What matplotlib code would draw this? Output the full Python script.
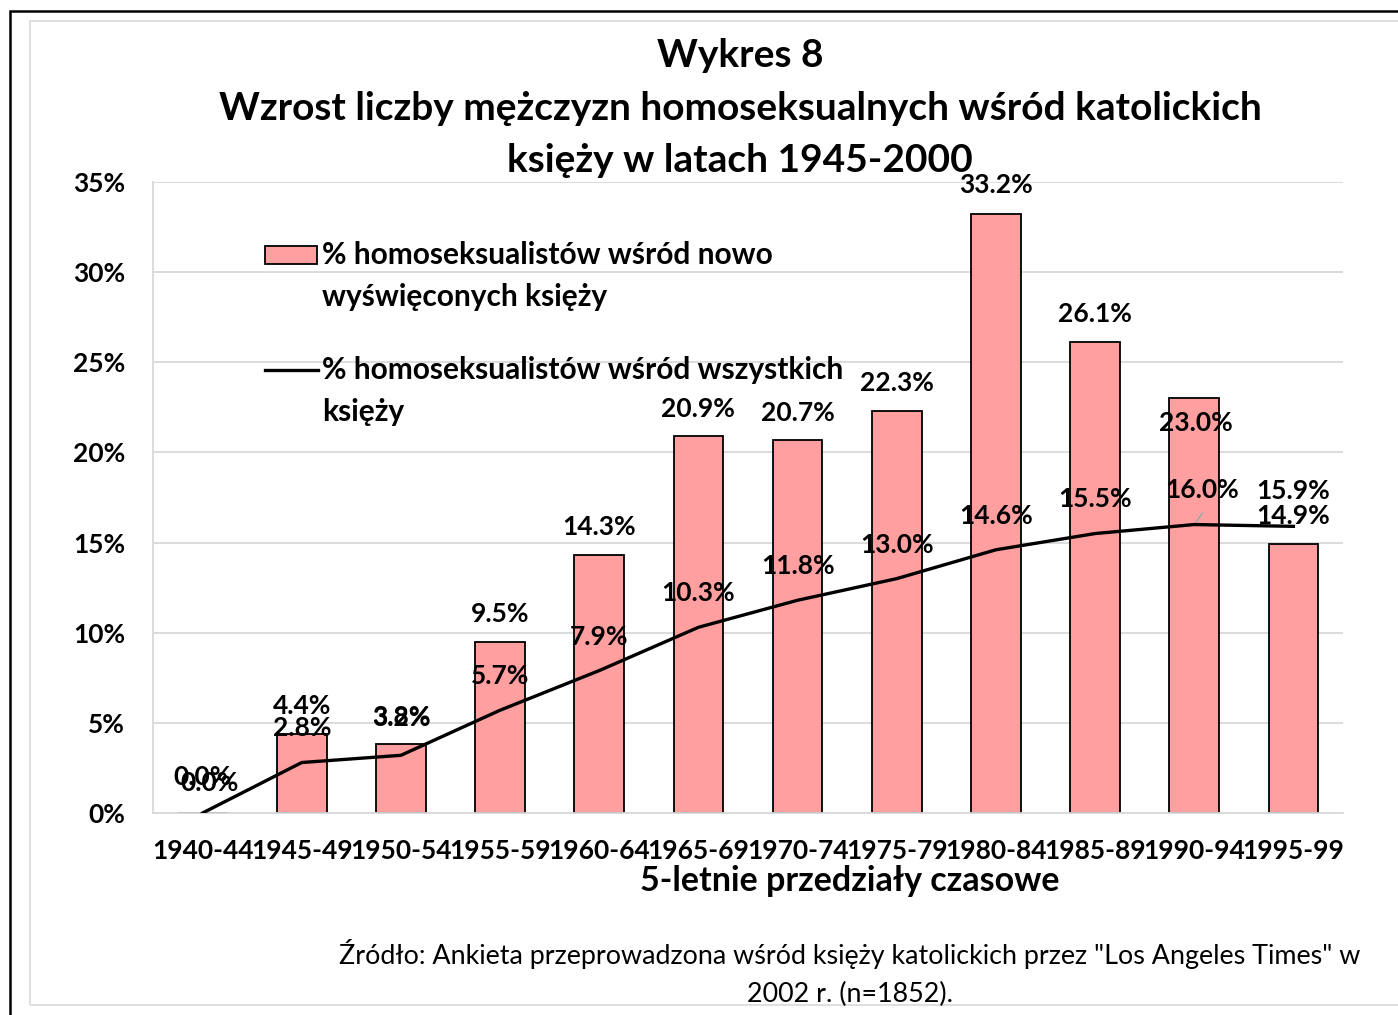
import matplotlib
matplotlib.use('Agg')
import matplotlib.pyplot as plt
from matplotlib.patches import Rectangle
from matplotlib.lines import Line2D
import numpy as np

plt.rcParams['font.family'] = ['Lato', 'DejaVu Sans']

W, H = 1398, 1015

# data
periods = ['1940-44', '1945-49', '1950-54', '1955-59', '1960-64', '1965-69',
           '1970-74', '1975-79', '1980-84', '1985-89', '1990-94', '1995-99']
new_priests = [0.0, 4.4, 3.8, 9.5, 14.3, 20.9, 20.7, 22.3, 33.2, 26.1, 23.0, 14.9]
all_priests = [0.0, 2.8, 3.2, 5.7, 7.9, 10.3, 11.8, 13.0, 14.6, 15.5, 16.0, 15.9]
yticks = [0, 5, 10, 15, 20, 25, 30, 35]

bar_label = '% homoseksualistów wśród nowo\nwyświęconych księży'
line_label = '% homoseksualistów wśród wszystkich\nksięży'
title = 'Wykres 8\nWzrost liczby mężczyzn homoseksualnych wśród katolickich\nksięży w latach 1945-2000'
xlabel = '5-letnie przedziały czasowe'
source = 'Źródło: Ankieta przeprowadzona wśród księży katolickich przez "Los Angeles Times" w\n2002 r. (n=1852).'


def fx(px):
    return px / W


def fy(py):
    return 1 - py / H


fig = plt.figure(figsize=(W / 100, H / 100), dpi=100)

# outer frames
fig.patches.append(Rectangle((fx(10), fy(1030)), fx(1420) - fx(10), fy(11) - fy(1030),
                             transform=fig.transFigure, fill=False, edgecolor='black', lw=1.8))
fig.patches.append(Rectangle((fx(30), fy(1005)), fx(1420) - fx(30), fy(21) - fy(1005),
                             transform=fig.transFigure, fill=False, edgecolor='#d9d9d9', lw=1.2))

ax = fig.add_axes([fx(153), fy(813), fx(1343) - fx(153), fy(182) - fy(813)])
x = np.arange(len(periods))

ax.bar(x, new_priests, width=0.5, color='#ff9f9f', edgecolor='black', linewidth=1.3, zorder=2)
ax.plot(x, all_priests, color='black', lw=2.4, zorder=3)

ax.set_xlim(-0.5, len(periods) - 0.5)
ax.set_ylim(0, 35)
ax.set_yticks(yticks)
ax.set_yticklabels([f'{v}%' for v in yticks], fontsize=19, fontweight='bold')
ax.set_xticks(x)
ax.set_xticklabels(periods, fontsize=19, fontweight='bold')
ax.tick_params(axis='both', length=0)
ax.tick_params(axis='y', pad=20)
ax.tick_params(axis='x', pad=19)
ax.grid(axis='y', color='#d9d9d9', lw=1.3, zorder=0)
ax.set_axisbelow(True)
for s in ['top', 'right']:
    ax.spines[s].set_visible(False)
ax.spines['left'].set_color('#d9d9d9')
ax.spines['bottom'].set_color('#d9d9d9')
ax.spines['left'].set_linewidth(1.3)
ax.spines['bottom'].set_linewidth(1.3)

# data labels (offsets in pixels)
bar_off = [(0, 36), (0, 28), (0, 27), (0, 28), (0, 28), (0, 27), (0, 27), (0, 28),
           (0, 29), (0, 28), (2, -25), (0, 28)]
line_off = [(7, 30), (0, 35), (0, 37), (0, 34), (0, 34), (0, 34), (0, 34), (0, 34),
            (0, 34), (0, 35), (8, 35), (0, 35)]
for i, v in enumerate(new_priests):
    ax.annotate(f'{v:.1f}%', (x[i], v), xytext=bar_off[i], textcoords='offset pixels',
                ha='center', va='center', fontsize=19, fontweight='bold', zorder=5)
for i, v in enumerate(all_priests):
    ax.annotate(f'{v:.1f}%', (x[i], v), xytext=line_off[i], textcoords='offset pixels',
                ha='center', va='center', fontsize=19, fontweight='bold', zorder=5)
# leader line for 16.0%
ax.annotate('', (x[10], all_priests[10]), xytext=(10, 14), textcoords='offset pixels',
            arrowprops=dict(arrowstyle='-', color='#a6a6a6', lw=1.2))

# legend drawn by hand
fig.patches.append(Rectangle((fx(265), fy(264)), fx(317) - fx(265), fy(246) - fy(264),
                             transform=fig.transFigure, facecolor='#ff9f9f', edgecolor='black', lw=1.3))
fig.lines.append(Line2D([fx(265), fx(318)], [fy(370), fy(370)], transform=fig.transFigure,
                        color='black', lw=2.4))
fig.text(fx(322), fy(241), bar_label, ha='left', va='top', fontsize=21.5, fontweight='bold',
         linespacing=1.6, transform=fig.transFigure)
fig.text(fx(322), fy(356), line_label, ha='left', va='top', fontsize=21.5, fontweight='bold',
         linespacing=1.6, transform=fig.transFigure)

fig.text(fx(740), fy(108), title, ha='center', va='center', fontsize=28, fontweight='bold',
         linespacing=1.6)
fig.text(fx(850), fy(881), xlabel, ha='center', va='center', fontsize=24.5, fontweight='bold')
fig.text(fx(850), fy(973), source, ha='center', va='center', fontsize=19.4, linespacing=1.6)

fig.savefig('out.png', dpi=100, facecolor='white')
